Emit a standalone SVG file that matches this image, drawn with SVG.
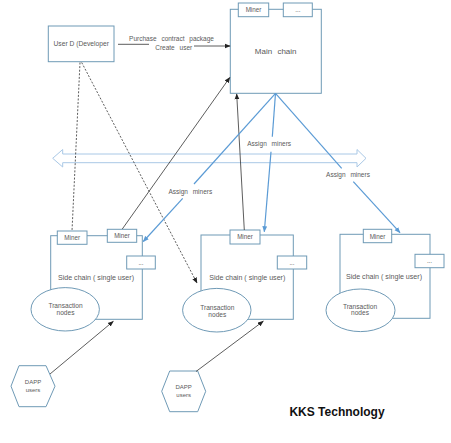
<svg xmlns="http://www.w3.org/2000/svg" width="451" height="443" viewBox="0 0 451 443">
<defs>
<style>
.box{fill:#fff;stroke:#6f9ab6;stroke-width:1}
.t{font-family:"Liberation Sans",Arial,sans-serif;fill:#5a5a5a;text-anchor:middle}
.blk{stroke:#333;stroke-width:0.8;fill:none}
.dash{stroke:#333;stroke-width:0.8;fill:none;stroke-dasharray:2,1.6}
.blu{stroke:#5b9bd5;stroke-width:1.2;fill:none}
</style>
<marker id="ab" viewBox="0 0 10 10" refX="9" refY="5" markerWidth="6" markerHeight="6" markerUnits="userSpaceOnUse" orient="auto"><path d="M0,1 L10,5 L0,9 z" fill="#222"/></marker>
<marker id="au" viewBox="0 0 10 10" refX="9" refY="5" markerWidth="6" markerHeight="6" markerUnits="userSpaceOnUse" orient="auto"><path d="M0,1 L10,5 L0,9 z" fill="#5b9bd5"/></marker>
</defs>
<rect width="451" height="443" fill="#fff"/>

<g id="double-arrow">
<path d="M52.7,158.3 L62.7,149.5 L62.7,154 L357,154 L357,149.5 L366,158.3 L357,167 L357,162.7 L62.7,162.7 L62.7,167 Z" fill="#fff" stroke="#a9c8e6" stroke-width="1"/>
</g>

<g id="user-developer">
<rect class="box" x="48.3" y="26" width="65.7" height="35.7"/>
<text class="t" x="81.2" y="46" font-size="6.7">User D (Developer</text>
</g>

<g id="main-chain">
<rect class="box" x="230.3" y="9.3" width="91" height="84"/>
<rect class="box" x="238.3" y="3" width="30.4" height="13.7"/>
<text class="t" x="253.5" y="12.3" font-size="6.3">Miner</text>
<rect class="box" x="283.3" y="3" width="29" height="13.7"/>
<text class="t" x="297.8" y="12.3" font-size="6.3">...</text>
<text class="t" x="275.7" y="54" font-size="8" word-spacing="3">Main chain</text>
</g>

<g id="side-chain-1">
<rect class="box" x="50.7" y="235.7" width="91.6" height="83.6"/>
<rect class="box" x="57.3" y="231" width="29.7" height="13.3"/>
<text class="t" x="72.2" y="240" font-size="6.3">Miner</text>
<rect class="box" x="107.3" y="229.3" width="29.4" height="13"/>
<text class="t" x="122" y="238.2" font-size="6.3">Miner</text>
<rect class="box" x="126.7" y="256" width="28.6" height="13"/>
<text class="t" x="141" y="264.5" font-size="6.3">...</text>
<text class="t" x="96" y="280.2" font-size="7.1">Side chain ( single user)</text>
<ellipse class="box" cx="65.2" cy="309.3" rx="34.2" ry="21.7"/>
<text class="t" x="65.5" y="308.3" font-size="6.6">Transaction</text>
<text class="t" x="65.5" y="315.3" font-size="6.6">nodes</text>
</g>

<g id="side-chain-2">
<rect class="box" x="201" y="235" width="92.3" height="84.3"/>
<rect class="box" x="230" y="230" width="30" height="14"/>
<text class="t" x="245" y="239.3" font-size="6.3">Miner</text>
<rect class="box" x="277.3" y="256" width="29.4" height="13"/>
<text class="t" x="292" y="264.5" font-size="6.3">...</text>
<text class="t" x="247.3" y="280.2" font-size="7.1">Side chain ( single user)</text>
<ellipse class="box" cx="216.8" cy="310.2" rx="34.2" ry="21.8"/>
<text class="t" x="217.3" y="309.8" font-size="6.6">Transaction</text>
<text class="t" x="217.3" y="316.6" font-size="6.6">nodes</text>
</g>

<g id="side-chain-3">
<rect class="box" x="340" y="234.3" width="90" height="84"/>
<rect class="box" x="363.3" y="229.3" width="28.4" height="13.4"/>
<text class="t" x="377.5" y="238.5" font-size="6.3">Miner</text>
<rect class="box" x="415" y="254.3" width="29" height="13.4"/>
<text class="t" x="429.5" y="263" font-size="6.3">...</text>
<text class="t" x="384" y="278.5" font-size="7.1">Side chain ( single user)</text>
<ellipse class="box" cx="360.5" cy="310.3" rx="34.5" ry="21.3"/>
<text class="t" x="360" y="308.5" font-size="6.6">Transaction</text>
<text class="t" x="360" y="315.3" font-size="6.6">nodes</text>
</g>

<g id="dapp-users-1">
<polygon class="box" points="11,386.2 19,365.7 46,365.7 55,386.2 46,406.7 19,406.7"/>
<text class="t" x="33" y="383.5" font-size="6">DAPP</text>
<text class="t" x="33" y="391.5" font-size="6">users</text>
</g>

<g id="dapp-users-2">
<polygon class="box" points="161.7,391.3 169.7,371 197.7,371 205.7,391.3 197.7,411.7 169.7,411.7"/>
<text class="t" x="183.7" y="388.8" font-size="6">DAPP</text>
<text class="t" x="183.7" y="396.5" font-size="6">users</text>
</g>

<g id="connectors">
<line class="blk" x1="118" y1="44.3" x2="149" y2="44.3"/>
<line class="blk" x1="194" y1="46" x2="230" y2="46" marker-end="url(#ab)"/>
<line class="blk" x1="122.3" y1="229" x2="229.8" y2="77.5" marker-end="url(#ab)"/>
<line class="blk" x1="244.3" y1="230" x2="236.7" y2="94" marker-end="url(#ab)"/>
<line class="dash" x1="80" y1="62.5" x2="72" y2="231"/>
<line class="dash" x1="81.7" y1="62.5" x2="197" y2="283" marker-end="url(#ab)"/>
<line class="blk" x1="50" y1="374" x2="113.3" y2="321.3" marker-end="url(#ab)"/>
<line class="blk" x1="196" y1="371.5" x2="263.3" y2="321.2" marker-end="url(#ab)"/>
<line class="blu" x1="275.5" y1="93.3" x2="194" y2="184"/>
<line class="blu" x1="182.7" y1="198.3" x2="143.3" y2="241.5" marker-end="url(#au)"/>
<line class="blu" x1="275.5" y1="93.3" x2="272.3" y2="136.7"/>
<line class="blu" x1="271" y1="151.7" x2="264.3" y2="231.7" marker-end="url(#au)"/>
<line class="blu" x1="275.5" y1="93.3" x2="341.7" y2="168.3"/>
<line class="blu" x1="353.3" y1="181.7" x2="400" y2="232.7" marker-end="url(#au)"/>
<text class="t" x="171.5" y="41" font-size="6.5" word-spacing="3">Purchase contract package</text>
<text class="t" x="173.7" y="50" font-size="6.5" word-spacing="3">Create user</text>
<text class="t" x="190.3" y="193.5" font-size="6.5" word-spacing="3">Assign miners</text>
<text class="t" x="269.2" y="146.3" font-size="6.5" word-spacing="3">Assign miners</text>
<text class="t" x="348" y="177.3" font-size="6.5" word-spacing="3">Assign miners</text>
</g>

<text x="337" y="415.5" font-family="'Liberation Sans',Arial,sans-serif" font-weight="bold" font-size="12" fill="#111" text-anchor="middle">KKS Technology</text>
</svg>
